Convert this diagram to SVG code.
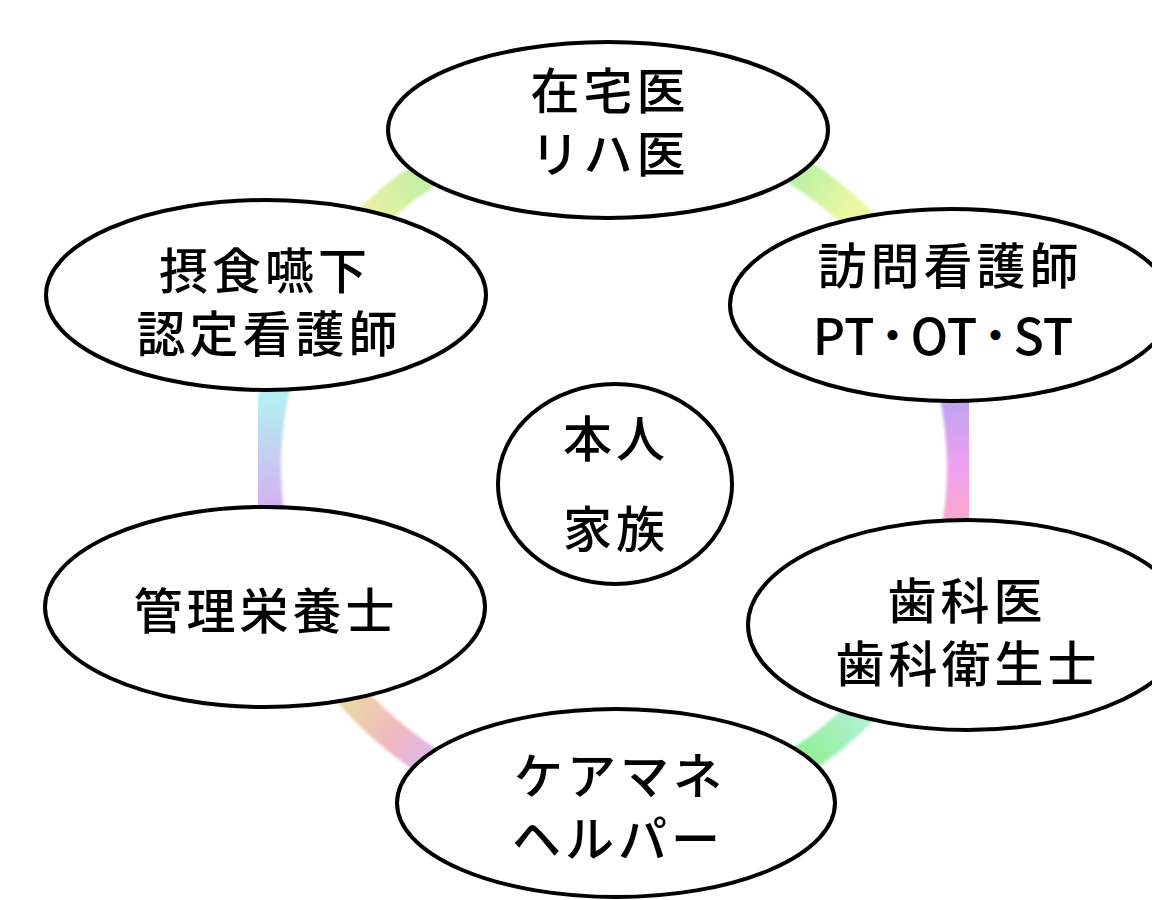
<svg xmlns="http://www.w3.org/2000/svg" width="1152" height="900" viewBox="0 0 1152 900">
  <style>
    .node { fill: #ffffff; stroke: #000000; stroke-width: 4; }
    .ring { fill: none; stroke-width: 30; filter: url(#soft); }
    .lbl { font-family: "Noto Sans CJK JP", "Noto Sans", sans-serif; font-size: 49px; font-weight: 500; fill: #000000; text-anchor: middle; dominant-baseline: central; letter-spacing: 4px; }
    .lat { letter-spacing: 0; font-size: 50px; }
    .dot { font-size: 36px; font-weight: 900; }
  </style>
  <defs>
    <filter id="soft" x="-20%" y="-20%" width="140%" height="140%">
      <feGaussianBlur stdDeviation="1.5"/>
    </filter>
    <linearGradient id="g1" gradientUnits="userSpaceOnUse" x1="360" y1="215" x2="435" y2="170">
      <stop offset="0" stop-color="#f2f0a0"/>
      <stop offset="1" stop-color="#b8f0a8"/>
    </linearGradient>
    <linearGradient id="g2" gradientUnits="userSpaceOnUse" x1="795" y1="160" x2="855" y2="210">
      <stop offset="0" stop-color="#b0f0a8"/>
      <stop offset="1" stop-color="#eef8a0"/>
    </linearGradient>
    <linearGradient id="g3" gradientUnits="userSpaceOnUse" x1="0" y1="395" x2="0" y2="525">
      <stop offset="0" stop-color="#b8a4f2"/>
      <stop offset="0.55" stop-color="#f0a0f0"/>
      <stop offset="1" stop-color="#f8aac8"/>
    </linearGradient>
    <linearGradient id="g4" gradientUnits="userSpaceOnUse" x1="870" y1="715" x2="800" y2="765">
      <stop offset="0" stop-color="#b4f0d8"/>
      <stop offset="1" stop-color="#8ef090"/>
    </linearGradient>
    <linearGradient id="g5" gradientUnits="userSpaceOnUse" x1="340" y1="700" x2="425" y2="765">
      <stop offset="0" stop-color="#e8dca0"/>
      <stop offset="0.6" stop-color="#f0b8c0"/>
      <stop offset="1" stop-color="#dcb8ea"/>
    </linearGradient>
    <linearGradient id="g6" gradientUnits="userSpaceOnUse" x1="0" y1="400" x2="0" y2="505">
      <stop offset="0" stop-color="#b4eef2"/>
      <stop offset="1" stop-color="#d2b2f0"/>
    </linearGradient>
  </defs>

  <g id="connectors">
    <path class="ring" stroke="url(#g1)" d="M301.2,314.4 A348,348 0 0 1 614,119"/>
    <path class="ring" stroke="url(#g2)" d="M614,119 A348,348 0 0 1 927.6,316.1"/>
    <path class="ring" stroke="url(#g3)" d="M927.6,316.1 A348,348 0 0 1 931.9,608.5"/>
    <path class="ring" stroke="url(#g4)" d="M931.9,608.5 A348,348 0 0 1 614,815"/>
    <path class="ring" stroke="url(#g5)" d="M614,815 A348,348 0 0 1 291.3,597.4"/>
    <path class="ring" stroke="url(#g6)" d="M291.3,597.4 A348,348 0 0 1 301.2,314.4"/>
  </g>

  <g id="node-zaitaku">
    <ellipse class="node" cx="608" cy="130" rx="220" ry="88"/>
    <text class="lbl"><tspan x="610" y="87">在宅医</tspan><tspan x="610" y="150">リハ医</tspan></text>
  </g>

  <g id="node-sesshoku">
    <ellipse class="node" cx="266" cy="295" rx="220" ry="95"/>
    <text class="lbl"><tspan x="265" y="267">摂食嚥下</tspan><tspan x="269" y="330">認定看護師</tspan></text>
  </g>

  <g id="node-houmon">
    <ellipse class="node" cx="951" cy="305" rx="221" ry="96"/>
    <text class="lbl"><tspan x="950" y="262">訪問看護師</tspan><tspan class="lat" x="943" y="333">PT<tspan class="dot">・</tspan>OT<tspan class="dot">・</tspan>ST</tspan></text>
  </g>

  <g id="node-eiyou">
    <ellipse class="node" cx="265" cy="607" rx="220" ry="100"/>
    <text class="lbl" x="266" y="607">管理栄養士</text>
  </g>

  <g id="node-shika">
    <ellipse class="node" cx="968" cy="625" rx="220" ry="105"/>
    <text class="lbl"><tspan x="967" y="597">歯科医</tspan><tspan x="968" y="660">歯科衛生士</tspan></text>
  </g>

  <g id="node-caremane">
    <ellipse class="node" cx="616" cy="803" rx="219" ry="94"/>
    <text class="lbl"><tspan x="620" y="772">ケアマネ</tspan><tspan x="618" y="835">ヘルパー</tspan></text>
  </g>

  <g id="node-honnin">
    <ellipse class="node" cx="615" cy="484" rx="117" ry="100"/>
    <text class="lbl"><tspan x="616" y="435">本人</tspan><tspan x="616" y="525">家族</tspan></text>
  </g>
</svg>
